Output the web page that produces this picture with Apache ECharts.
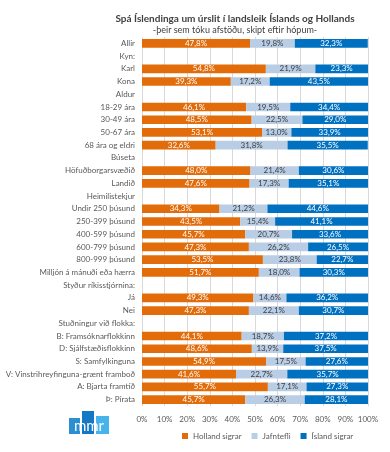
<!DOCTYPE html>
<html><head><meta charset="utf-8">
<script src="https://cdn.jsdelivr.net/npm/echarts@6/dist/echarts.min.js"></script>
<style>html,body{margin:0;padding:0;background:#fff}#c{width:390px;height:452px}</style>
</head><body><div id="c"></div>
<script>
var categories = ["Allir","Kyn:","Karl","Kona","Aldur","18-29 ára","30-49 ára","50-67 ára","68 ára og eldri","Búseta","Höfuðborgarsvæðið","Landið","Heimilistekjur","Undir 250 þúsund","250-399 þúsund","400-599 þúsund","600-799 þúsund","800-999 þúsund","Milljón á mánuði eða hærra","Styður ríkisstjórnina:","Já","Nei","Stuðningur við flokka:","B: Framsóknarflokkinn","D: Sjálfstæðisflokkinn","S: Samfylkinguna","V: Vinstrihreyfinguna-grænt framboð","A: Bjarta framtíð","Þ: Pírata"];
var hollandSigrar = [47.8,null,54.8,39.3,null,46.1,48.5,53.1,32.6,null,48.0,47.6,null,34.3,43.5,45.7,47.3,53.5,51.7,null,49.3,47.3,null,44.1,48.6,54.9,41.6,55.7,45.7];
var jafntefli = [19.8,null,21.9,17.2,null,19.5,22.5,13.0,31.8,null,21.4,17.3,null,21.2,15.4,20.7,26.2,23.8,18.0,null,14.6,22.1,null,18.7,13.9,17.5,22.7,17.1,26.3];
var islandSigrar = [32.3,null,23.3,43.5,null,34.4,29.0,33.9,35.5,null,30.6,35.1,null,44.6,41.1,33.6,26.5,22.7,30.3,null,36.2,30.7,null,37.2,37.5,27.6,35.7,27.3,28.1];
var seriesNames = ["Holland sigrar","Jafntefli","Ísland sigrar"];
var xTicks = [0,10,20,30,40,50,60,70,80,90,100];

var FONT = "Lato";
function fmt(p){ return p.value==null ? '' : p.value.toFixed(1).replace('.', ',') + '%'; }
function mk(name, data, color, lblColor){
  return {name:name, type:'bar', stack:'s', data:data, barCategoryGap:'32%',
    itemStyle:{color:color},
    label:{show:true, position:'inside', formatter:fmt, color:lblColor, fontSize:8, fontFamily:FONT}};
}
var chart = echarts.init(document.getElementById('c'));
chart.setOption({
  animation:false,
  textStyle:{fontFamily:FONT},
  title:{text:'Spá Íslendinga um úrslit í landsleik Íslands og Hollands',
    subtext:'-þeir sem tóku afstöðu, skipt eftir hópum-',
    left:230, textAlign:'center', top:9, itemGap:2,
    textStyle:{fontSize:10, fontWeight:'bold', color:'#404040', fontFamily:FONT},
    subtextStyle:{fontSize:9, color:'#404040', fontFamily:FONT}},
  legend:{data:seriesNames, left:177, top:427, itemWidth:6, itemHeight:6, itemGap:10,
    icon:'rect', textStyle:{fontSize:8, color:'#595959', fontFamily:FONT}},
  grid:{left:142, right:22, top:37, bottom:46, containLabel:false},
  xAxis:{type:'value', min:0, max:100, interval:10,
    axisLabel:{formatter:'{value}%', fontSize:8, color:'#595959', fontFamily:FONT, margin:9},
    splitLine:{lineStyle:{color:'#D9D9D9'}}, axisLine:{show:false}, axisTick:{show:false}},
  yAxis:{type:'category', data:categories, inverse:true,
    axisLabel:{fontSize:8, color:'#595959', fontFamily:FONT, margin:7, interval:0},
    axisLine:{show:false}, axisTick:{show:false}},
  series:[mk(seriesNames[0], hollandSigrar, '#E36C0A', '#fff'),
          mk(seriesNames[1], jafntefli, '#B9CDE5', '#404040'),
          mk(seriesNames[2], islandSigrar, '#0070C0', '#fff')],
  graphic:[
    {type:'rect', shape:{x:69,y:418,width:11,height:16}, style:{fill:'#2B8FD2'}},
    {type:'rect', shape:{x:82,y:411,width:12,height:23}, style:{fill:'#1478C4'}},
    {type:'rect', shape:{x:96,y:416,width:13,height:18}, style:{fill:'#46B3EA'}},
    {type:'text', style:{x:89, y:434, text:'mmr', textAlign:'center', textVerticalAlign:'bottom', fill:'#fff', fontSize:15, fontFamily:FONT}}
  ]
});
</script></body></html>
